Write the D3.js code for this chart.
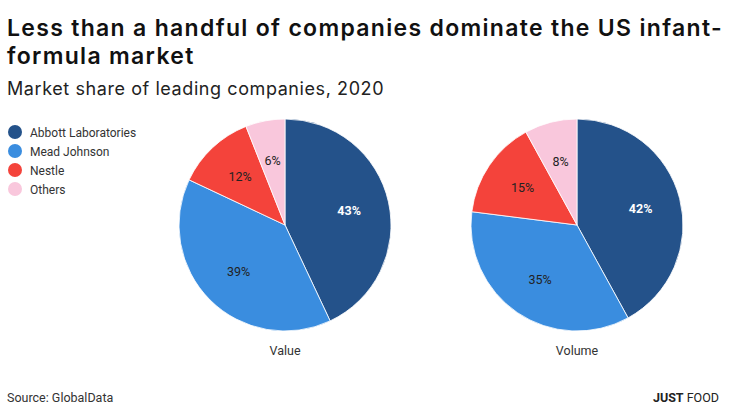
<!DOCTYPE html>
<html>
<head>
<meta charset="utf-8">
<script src="https://cdn.jsdelivr.net/npm/d3@7"></script>
<style>
  body { margin: 0; background: #fff; }
  text { font-family: "Roboto", sans-serif; }
  .head { font-family: "Inter", sans-serif; }
</style>
</head>
<body>
<div id="vis"></div>
<script>
/* data */
let companies = ["Abbott Laboratories", "Mead Johnson", "Nestle", "Others"];
let valueShare = [43, 39, 12, 6];
let volumeShare = [42, 35, 15, 8];
let pieTitles = ["Value", "Volume"];

/* display */
let width = 730;
let height = 416;
let colors = ["#24528a", "#3a8ddf", "#f4433b", "#f9c7dc"];
let labelColors = ["#fff", "#222", "#222", "#222"];

let color = d3.scaleOrdinal().domain(companies).range(colors);
let pieX = d3.scalePoint().domain(pieTitles).range([285, 577]);
let pieY = 225;
let radius = 106;

let svg = d3.select("#vis").append("svg")
  .attr("width", width)
  .attr("height", height);

/* stretch a text line to the width it has in the original */
let fitWidth = (sel, target) => {
  let n = sel.text().length;
  let w = sel.node().getComputedTextLength();
  sel.attr("letter-spacing", ((target - w) / n).toFixed(2));
};

/* title + subtitle */
let t1 = svg.append("text").classed("head", true)
  .attr("x", 7).attr("y", 36)
  .attr("font-size", 23)
  .attr("font-weight", 600)
  .attr("fill", "#111")
  .text("Less than a handful of companies dominate the US infant-");
fitWidth(t1, 716);
let t2 = svg.append("text").classed("head", true)
  .attr("x", 7).attr("y", 64)
  .attr("font-size", 23)
  .attr("font-weight", 600)
  .attr("fill", "#111")
  .text("formula market");
t2.attr("letter-spacing", t1.attr("letter-spacing"));

let sub = svg.append("text").classed("head", true)
  .attr("x", 7).attr("y", 95)
  .attr("font-size", 18)
  .attr("fill", "#222")
  .text("Market share of leading companies, 2020");
fitWidth(sub, 377);

/* legend */
let legend = svg.append("g");
companies.forEach((c, i) => {
  let g = legend.append("g")
    .attr("transform", "translate(15," + (132 + i * 19) + ")");
  g.append("circle").attr("r", 7).attr("fill", color(c));
  g.append("text")
    .attr("x", 15).attr("y", 4.5)
    .attr("font-size", 12)
    .attr("fill", "#333")
    .text(c);
});

/* pies */
let pie = d3.pie().sort(null).value(d => d.v);
let arc = d3.arc().innerRadius(0).outerRadius(radius);
let labelArc = d3.arc().innerRadius(radius * 0.62).outerRadius(radius * 0.62);

[valueShare, volumeShare].forEach((shares, k) => {
  let data = companies.map((c, i) => ({ name: c, v: shares[i], i: i }));
  let g = svg.append("g")
    .attr("transform", "translate(" + pieX(pieTitles[k]) + "," + pieY + ")");

  let arcs = pie(data);
  g.selectAll("path")
    .data(arcs)
    .enter().append("path")
      .attr("d", arc)
      .attr("fill", d => color(d.data.name))
      .attr("stroke", "#fff")
      .attr("stroke-width", 0.8);

  g.selectAll(".lbl")
    .data(arcs)
    .enter().append("text")
      .classed("lbl", true)
      .attr("transform", d => "translate(" + labelArc.centroid(d) + ")")
      .attr("text-anchor", "middle")
      .attr("dy", "0.35em")
      .attr("font-size", 12.5)
      .attr("font-weight", d => d.data.i === 0 ? "bold" : "normal")
      .attr("fill", d => labelColors[d.data.i])
      .text(d => d.data.v + "%");

  g.append("text")
    .attr("y", radius + 24)
    .attr("text-anchor", "middle")
    .attr("font-size", 12.5)
    .attr("fill", "#333")
    .text(pieTitles[k]);
});

/* footer */
svg.append("text")
  .attr("x", 7).attr("y", 402)
  .attr("font-size", 12.5)
  .attr("fill", "#333")
  .text("Source: GlobalData");

let brand = svg.append("text")
  .attr("x", 719).attr("y", 402)
  .attr("text-anchor", "end")
  .attr("font-size", 12.5)
  .attr("fill", "#222");
brand.append("tspan").attr("font-weight", "bold").text("JUST");
brand.append("tspan").text(" FOOD");
</script>
</body>
</html>
